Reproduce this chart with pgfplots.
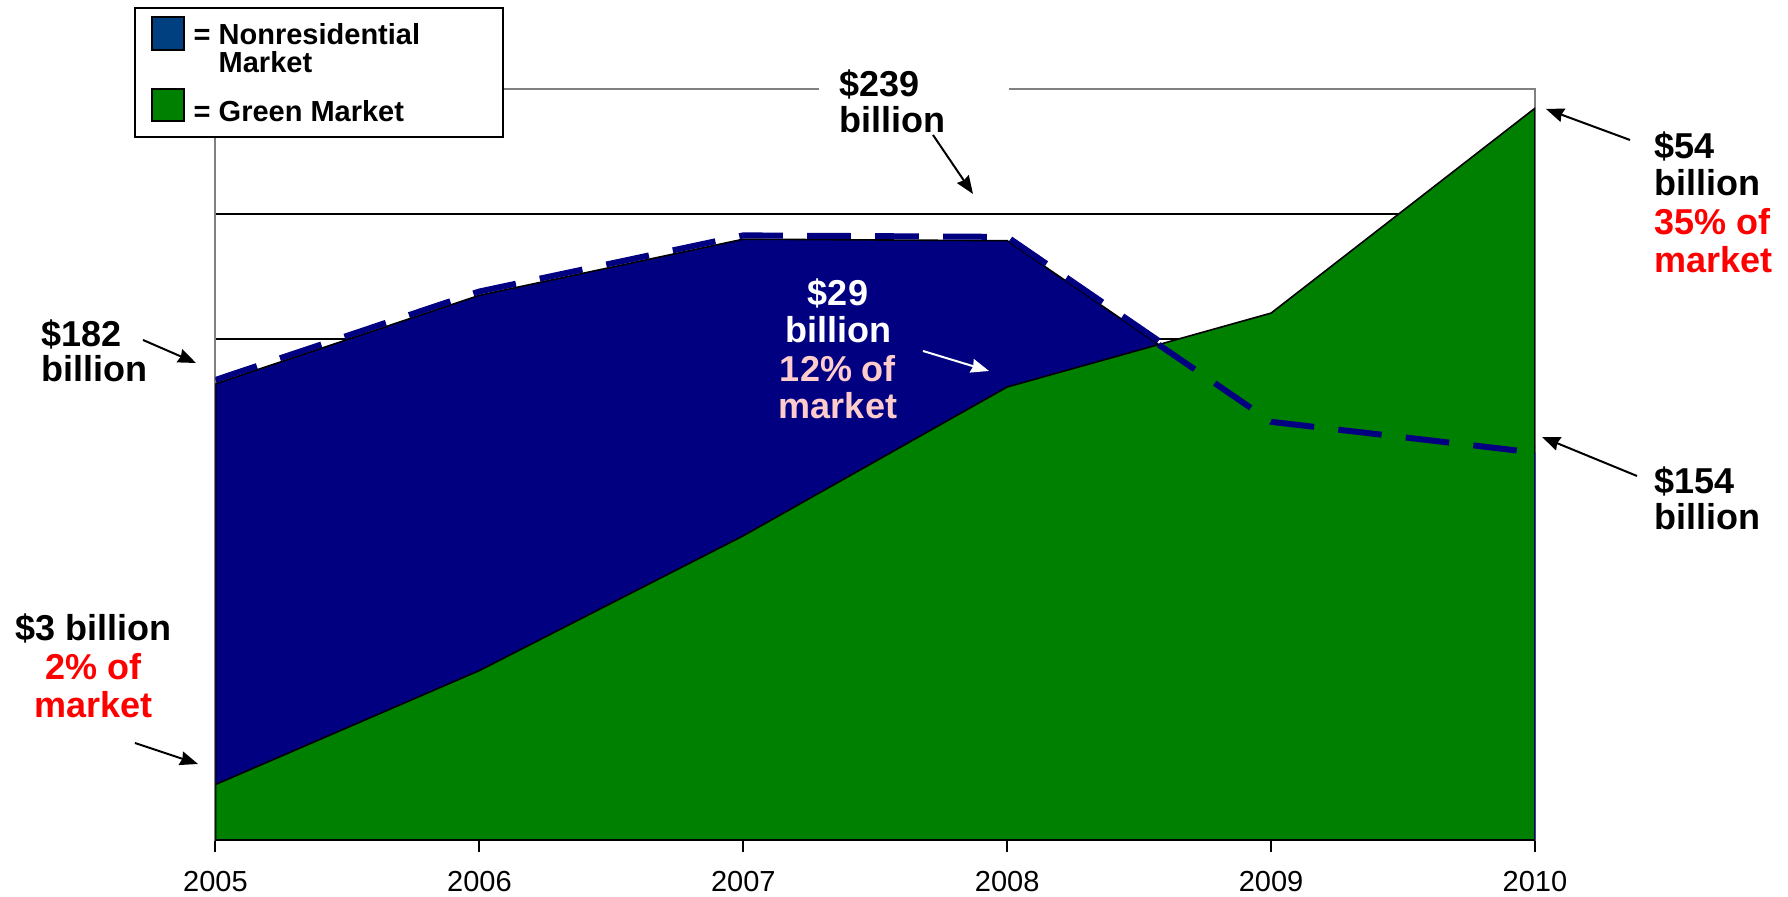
\documentclass[border=0pt]{standalone}
\usepackage{fontspec}
\setmainfont{Liberation Sans}
\usepackage{pgfplots}
\pgfplotsset{compat=1.18}
\usetikzlibrary{arrows.meta}

\definecolor{navyA}{RGB}{0,0,128}
\definecolor{greenA}{RGB}{0,128,0}
\definecolor{legblue}{RGB}{0,64,128}
\definecolor{pinkA}{RGB}{255,204,204}
\definecolor{axgray}{RGB}{128,128,128}

\newcommand{\af}{\fontsize{18}{18}\selectfont\bfseries}
\newcommand{\lf}{\fontsize{14.5}{14.5}\selectfont\bfseries}
% one line of annotation text: anchor, colour, position (pixels), text
\newcommand{\tx}[4]{\node[anchor=#1, inner sep=0pt, text=#2, font=\af] at (#3) {#4};}
\newcommand{\lx}[2]{\node[anchor=base west, inner sep=0pt, font=\lf] at (#1) {#2};}

\begin{document}
\begin{tikzpicture}
\useasboundingbox (-107.75pt,-28.3pt) rectangle (786.25pt,420.2pt);

\begin{axis}[
    at={(0,0)}, anchor=south west,
    scale only axis, width=659.75pt, height=375.75pt,
    xmin=2005, xmax=2010, ymin=0, ymax=300,
    xtick={2005,2006,2007,2008,2009,2010},
    xticklabels={2005,2006,2007,2008,2009,2010},
    xticklabel style={font=\fontsize{14.5}{14.5}\selectfont, anchor=base, yshift=-19.6pt},
    xtick pos=left, tick align=outside, major tick length=6pt,
    xtick style={black, line width=1pt},
    ytick={50,100,150,200,250}, yticklabels={}, ytick style={draw=none},
    ymajorgrids, major grid style={black, line width=1pt},
    axis line style={axgray, line width=1pt},
]
% nonresidential market
\addplot[fill=navyA, draw=black, line width=0.8pt] coordinates {
    (2005,182.3) (2006,217.6) (2007,240) (2008,239.4) (2009,167.1) (2010,154.8)
} \closedcycle;
\addplot[navyA, line width=3pt, dash pattern=on 21.8pt off 12.2pt, yshift=1.9pt] coordinates {
    (2005,182.3) (2006,217.6) (2007,240) (2008,239.4) (2009,167.1) (2010,154.8)
};
% green market
\addplot[fill=greenA, draw=black, line width=0.8pt] coordinates {
    (2005,22.3) (2006,67.8) (2007,121.6) (2008,181) (2009,210.5) (2010,292.3)
} \closedcycle;
% part of the nonresidential line that lies over the green area
\addplot[navyA, line width=3pt, dash pattern=on 21.8pt off 12.2pt] coordinates {
    (2008.574,197.9) (2009,167.1) (2010,154.8)
};
\addplot[navyA, line width=1.5pt] coordinates {(2010,0) (2010,154.8)};
\draw[black, line width=1.5pt] (rel axis cs:0,0) -- (rel axis cs:1,0);
\end{axis}

% annotations, in pixels of the reference
\begin{scope}[x=0.5pt, y=-0.5pt, shift={(-107.75pt,420.2pt)}]
\fill[white] (818.7,83) rectangle (1009,95);

\draw[black, line width=1pt, fill=white] (134.6,8) rectangle (502.9,136.8);
\draw[black, line width=1pt, fill=legblue] (151.7,17) rectangle (183.6,50);
\draw[black, line width=1pt, fill=greenA] (151.7,89) rectangle (183.6,121);
\lx{193.3,44.5}{=}
\lx{218.3,44.5}{Nonresidential}
\lx{218.3,73}{Market}
\lx{193.3,122}{=}
\lx{218.3,122}{Green Market}

\tx{base west}{black}{41,346.5}{\$182}
\tx{base west}{black}{41,382}{billion}

\tx{base}{black}{93.5,641}{\$3 billion}
\tx{base}{red}{93.5,679.5}{2\% of}
\tx{base}{red}{93.5,718}{market}

\tx{base west}{black}{839,96.5}{\$239}
\tx{base west}{black}{839,132.5}{billion}

\tx{base}{white}{838,306}{\$29}
\tx{base}{white}{838,342.7}{billion}
\tx{base}{pinkA}{838,382}{12\% of}
\tx{base}{pinkA}{838,418.5}{market}

\tx{base west}{black}{1654,158.5}{\$54}
\tx{base west}{black}{1654,195.5}{billion}
\tx{base west}{red}{1654,235}{35\% of}
\tx{base west}{red}{1654,272.7}{market}

\tx{base west}{black}{1654,493.5}{\$154}
\tx{base west}{black}{1654,530}{billion}

\tikzset{ann/.style={line width=1pt, -{Stealth[length=9pt,width=7pt,inset=0.8pt]}}}
\draw[ann] (143,340) -- (196,363);
\draw[ann] (135,743) -- (198,764);
\draw[ann] (933,135) -- (973,194);
\draw[ann, white] (923,351) -- (989,371);
\draw[ann] (1630,140) -- (1546,109);
\draw[ann] (1637,476) -- (1542,437);
\end{scope}
\end{tikzpicture}
\end{document}
